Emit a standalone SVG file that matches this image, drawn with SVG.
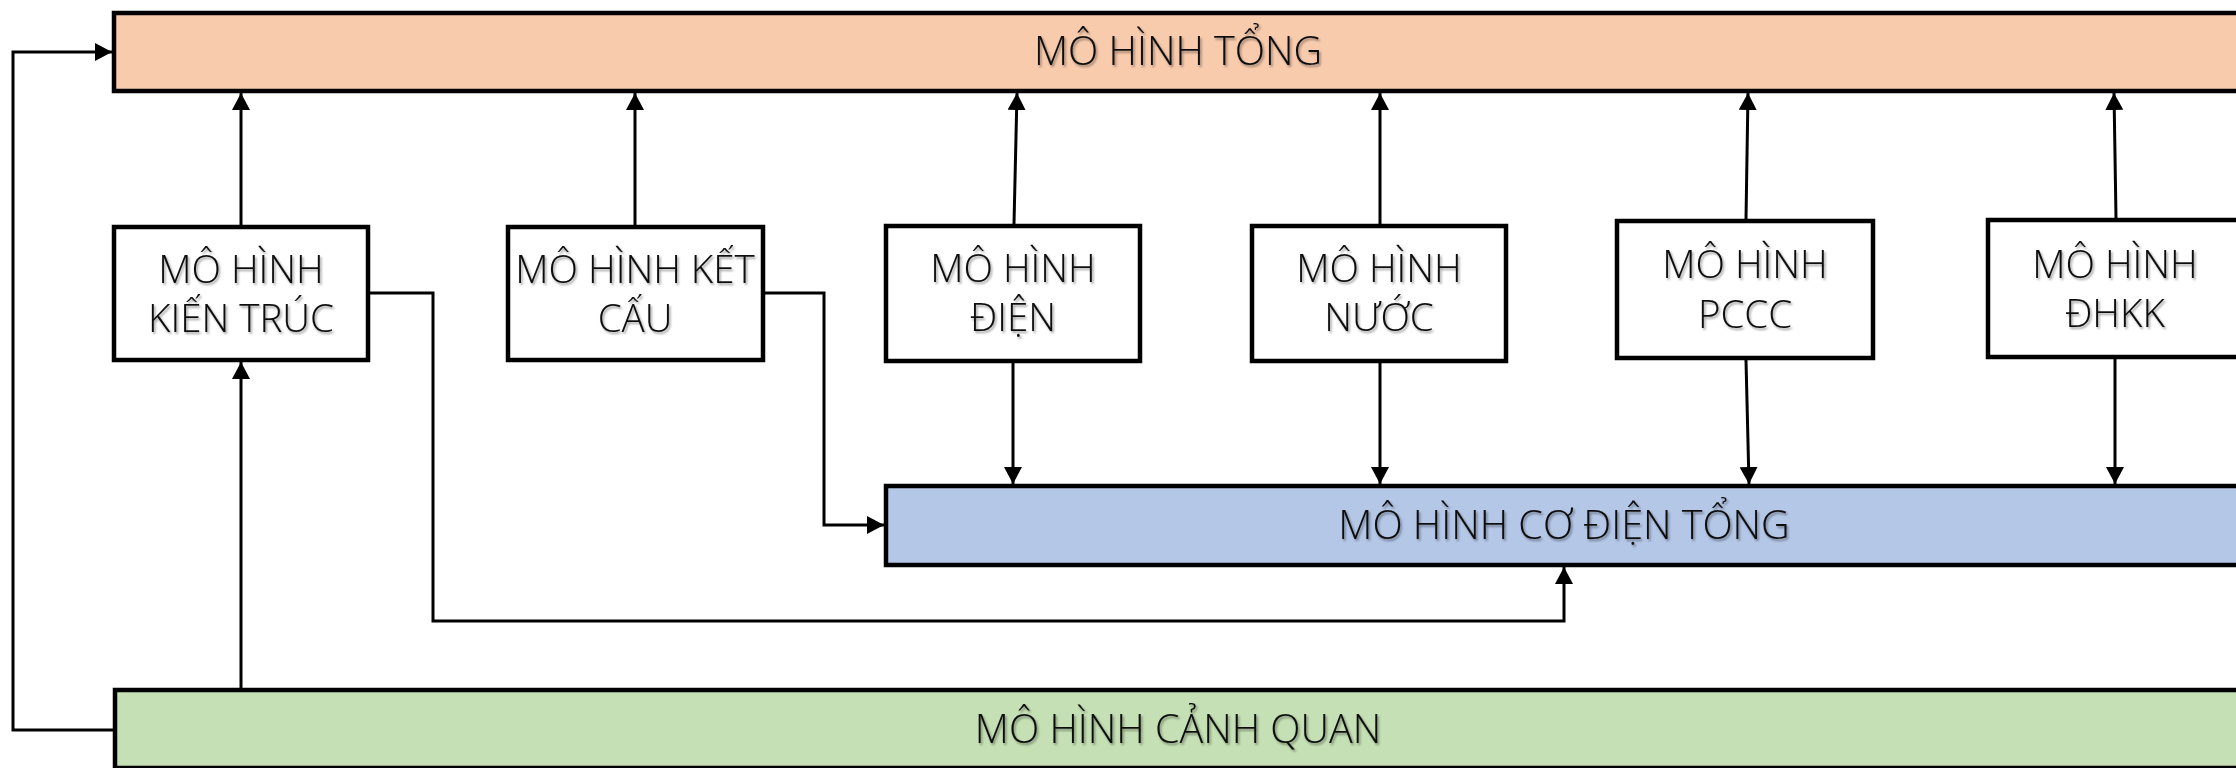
<svg xmlns="http://www.w3.org/2000/svg" width="2236" height="768" viewBox="0 0 2236 768">
  <defs>
    <marker id="arrow" markerUnits="userSpaceOnUse" markerWidth="18" markerHeight="18" refX="17" refY="9" orient="auto">
      <path d="M0,0 L17,9 L0,18 z" fill="#000"/>
    </marker>
    <filter id="shadow" x="-5%" y="-20%" width="110%" height="150%">
      <feDropShadow dx="1.5" dy="2" stdDeviation="1.2" flood-color="#000" flood-opacity="0.4"/>
    </filter>
  </defs>
  <style>
    .box { stroke: #000; stroke-width: 4.5; }
    .plain { fill: #fff; }
    .tong { fill: #F8CBAD; }
    .codien { fill: #B4C7E7; }
    .canhquan { fill: #C5E0B4; }
    .lbl { font-family: "Open Sans", "Liberation Sans", sans-serif; font-weight: 300; font-size: 39.5px; fill: #0a0a0a; text-anchor: middle; filter: url(#shadow); }
    .sm { font-size: 38.5px; }
    .conn { fill: none; stroke: #000; stroke-width: 3; }
    .conn path { marker-end: url(#arrow); }
  </style>

  <rect width="2236" height="768" fill="#fff"/>

  <!-- connectors -->
  <g id="connectors" class="conn">
    <path d="M241,225 L241,93"/>
    <path d="M635,225 L635,93"/>
    <path d="M1014,224 L1017,93"/>
    <path d="M1380,224 L1380,93"/>
    <path d="M1746,219 L1748,93"/>
    <path d="M2116,218 L2114,93"/>
    <path d="M1013,363 L1013,484"/>
    <path d="M1380,363 L1380,484"/>
    <path d="M1746,360 L1749,484"/>
    <path d="M2115,359 L2115,484"/>
    <path d="M765,293 H824 V525 H884"/>
    <path d="M370,293 H433 V621 H1564 V567"/>
    <path d="M241,688 V362"/>
    <path d="M113,730 H13 V52 H112"/>
  </g>

  <!-- nodes -->
  <g id="mo-hinh-tong">
    <rect class="box tong" x="114" y="13" width="2128" height="78"/>
    <text class="lbl" x="1178" y="65">MÔ HÌNH TỔNG</text>
  </g>

  <g id="mo-hinh-kien-truc">
    <rect class="box plain" x="114" y="227" width="254" height="133"/>
    <text class="lbl sm" x="241" y="283">MÔ HÌNH</text>
    <text class="lbl sm" x="241" y="332">KIẾN TRÚC</text>
  </g>

  <g id="mo-hinh-ket-cau">
    <rect class="box plain" x="508" y="227" width="255" height="133"/>
    <text class="lbl sm" x="635" y="283">MÔ HÌNH KẾT</text>
    <text class="lbl sm" x="635" y="332">CẤU</text>
  </g>

  <g id="mo-hinh-dien">
    <rect class="box plain" x="886" y="226" width="254" height="135"/>
    <text class="lbl sm" x="1013" y="282">MÔ HÌNH</text>
    <text class="lbl sm" x="1013" y="331">ĐIỆN</text>
  </g>

  <g id="mo-hinh-nuoc">
    <rect class="box plain" x="1252" y="226" width="254" height="135"/>
    <text class="lbl sm" x="1379" y="282">MÔ HÌNH</text>
    <text class="lbl sm" x="1379" y="331">NƯỚC</text>
  </g>

  <g id="mo-hinh-pccc">
    <rect class="box plain" x="1617" y="221" width="256" height="137"/>
    <text class="lbl sm" x="1745" y="278">MÔ HÌNH</text>
    <text class="lbl sm" x="1745" y="328">PCCC</text>
  </g>

  <g id="mo-hinh-dhkk">
    <rect class="box plain" x="1988" y="220" width="254" height="137"/>
    <text class="lbl sm" x="2115" y="278">MÔ HÌNH</text>
    <text class="lbl sm" x="2115" y="327">ĐHKK</text>
  </g>

  <g id="mo-hinh-co-dien-tong">
    <rect class="box codien" x="886" y="486" width="1356" height="79"/>
    <text class="lbl" x="1564" y="539">MÔ HÌNH CƠ ĐIỆN TỔNG</text>
  </g>

  <g id="mo-hinh-canh-quan">
    <rect class="box canhquan" x="115" y="690" width="2127" height="78"/>
    <text class="lbl" x="1178" y="743">MÔ HÌNH CẢNH QUAN</text>
  </g>
</svg>
